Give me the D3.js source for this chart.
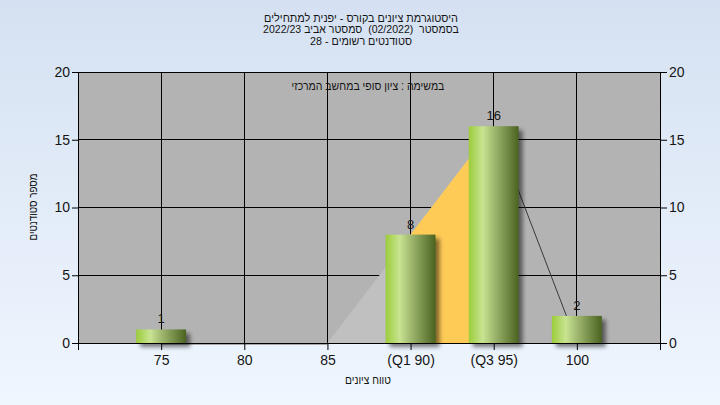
<!DOCTYPE html>
<html><head><meta charset="utf-8">
<script src="https://cdn.jsdelivr.net/npm/d3@7"></script>
<style>html,body{margin:0;padding:0;overflow:hidden;background:#fff}</style>
</head><body>
<svg id="c" width="720" height="405"></svg>
<script>
// ---- data ----
const categories = [75, 80, 85, 90, 95, 100];
const tickLabels = ["75", "80", "85", "(Q1 90)", "(Q3 95)", "100"];
const counts = [1, 0, 0, 8, 16, 2];
const yTicks = [0, 5, 10, 15, 20];
const curveX = [85, 95, 100];
const curveY = [0, 16, 0];
const quartiles = [90, 95];
const titleLines = ["היסטוגרמת ציונים בקורס - יפנית למתחילים", "בסמסטר  (02/2022)  סמסטר אביב 2022/23", "סטודנטים רשומים - 28"];
const subtitle = "במשימה : ציון סופי במחשב המרכזי";
const xTitle = "טווח ציונים";
const yTitle = "מספר סטודנטים";

// ---- layout ----
const svg = d3.select("#c");
const L = 78, R = 660, T = 72, B = 343;
const x = d3.scaleLinear().domain([70, 105]).range([L, R]);
const y = d3.scaleLinear().domain([0, 20]).range([B, T]);
const FONT = "'Liberation Sans Narrow','Arial Narrow','Liberation Sans',sans-serif";
const TXT = "#151515";

const defs = svg.append("defs");
const bg = defs.append("linearGradient").attr("id", "bg").attr("x1", 0).attr("y1", 0).attr("x2", 0).attr("y2", 1);
bg.append("stop").attr("offset", "0%").attr("stop-color", "#d5e1f2");
bg.append("stop").attr("offset", "100%").attr("stop-color", "#eff6fe");
const bar = defs.append("linearGradient").attr("id", "bar").attr("x1", 0).attr("y1", 0).attr("x2", 1).attr("y2", 0);
[["0%", "#9ccc3a"], ["28%", "#c8e492"], ["55%", "#98b068"], ["100%", "#4a6320"]].forEach(s =>
  bar.append("stop").attr("offset", s[0]).attr("stop-color", s[1]));
const blur = defs.append("filter").attr("id", "sh").attr("x", "-30%").attr("y", "-30%").attr("width", "160%").attr("height", "160%");
blur.append("feGaussianBlur").attr("stdDeviation", 2.2);

svg.append("rect").attr("width", 720).attr("height", 405).attr("fill", "url(#bg)");
svg.append("rect").attr("x", L).attr("y", T).attr("width", R - L).attr("height", B - T).attr("fill", "#b3b3b3");

// grid
svg.append("g").selectAll("line").data(yTicks.filter(v => v > 0 && v < 20)).join("line")
  .attr("x1", L).attr("x2", R).attr("y1", d => y(d)).attr("y2", d => y(d))
  .attr("stroke", "#000").attr("stroke-width", 1).attr("shape-rendering", "crispEdges");
svg.append("g").selectAll("line").data(categories).join("line")
  .attr("x1", d => x(d)).attr("x2", d => x(d)).attr("y1", T).attr("y2", B)
  .attr("stroke", "#000").attr("stroke-width", 1).attr("shape-rendering", "crispEdges");

// distribution shape
const peakX = curveX[1], peakY = curveY[1];
const lineAt = v => curveY[0] + (v - curveX[0]) / (peakX - curveX[0]) * (peakY - curveY[0]);
svg.append("path").attr("fill", "#c0c0c0")
  .attr("d", d3.line()([[x(curveX[0]), y(curveY[0])], [x(peakX), y(peakY)], [x(peakX), y(0)]]) + "Z");
svg.append("path").attr("fill", "#ffcb57")
  .attr("d", d3.line()([[x(quartiles[0]), y(0)], [x(quartiles[0]), y(lineAt(quartiles[0]))],
    [x(quartiles[1]), y(lineAt(quartiles[1]))], [x(quartiles[1]), y(0)]]) + "Z");
svg.append("line").attr("x1", x(peakX)).attr("y1", y(peakY)).attr("x2", x(curveX[2])).attr("y2", y(curveY[2]))
  .attr("stroke", "#3a3a3a").attr("stroke-width", 1);
svg.append("line").attr("x1", x(75)).attr("x2", x(curveX[0])).attr("y1", B + 1.5).attr("y2", B + 1.5)
  .attr("stroke", "#a8a8a8").attr("stroke-width", 1);

// bars
const bw = (x(80) - x(75)) * 0.6;
const data = categories.map((c, i) => ({ c, v: counts[i] })).filter(d => d.v > 0);
svg.append("g").selectAll("rect").data(data).join("rect")
  .attr("x", d => x(d.c) - bw / 2 + 4).attr("y", d => y(d.v) + 4)
  .attr("width", bw).attr("height", d => y(0) - y(d.v))
  .attr("fill", "#000").attr("opacity", 0.5).attr("filter", "url(#sh)");
svg.append("g").selectAll("rect").data(data).join("rect")
  .attr("x", d => x(d.c) - bw / 2).attr("y", d => y(d.v))
  .attr("width", bw).attr("height", d => y(0) - y(d.v))
  .attr("fill", "url(#bar)");
svg.append("g").selectAll("text").data(data).join("text")
  .attr("x", d => x(d.c)).attr("y", d => y(d.v) - 6)
  .attr("text-anchor", "middle").attr("font-family", FONT).attr("font-size", 13).attr("fill", TXT)
  .text(d => d.v);

// axes
const axFont = g => g.selectAll("text").attr("font-family", FONT).attr("font-size", 14).attr("fill", TXT);
const left = svg.append("g").attr("transform", `translate(${L},0)`)
  .call(d3.axisLeft(y).tickValues(yTicks).tickSize(6).tickPadding(2)).call(axFont);
const right = svg.append("g").attr("transform", `translate(${R},0)`)
  .call(d3.axisRight(y).tickValues(yTicks).tickSize(7).tickPadding(2)).call(axFont);
const bottom = svg.append("g").attr("transform", `translate(0,${B})`)
  .call(d3.axisBottom(x).tickValues(d3.range(70, 106, 5)).tickSize(7).tickPadding(5)
    .tickFormat(v => { const i = categories.indexOf(v); return i >= 0 ? tickLabels[i] : ""; }))
  .call(axFont);
[left, right, bottom].forEach(g => { g.select(".domain").attr("stroke", "#000"); g.selectAll(".tick line").attr("stroke", "#000"); });
svg.append("line").attr("x1", L).attr("x2", R).attr("y1", T).attr("y2", T).attr("stroke", "#000").attr("shape-rendering", "crispEdges");

// titles: text fitted to a target width by horizontal scaling
function fitted(str, cx, cy, width, size, rot) {
  const g = svg.append("g");
  const t = g.append("text").attr("x", 0).attr("y", 0).attr("text-anchor", "middle")
    .attr("font-family", FONT).attr("font-size", size).attr("fill", TXT)
    .style("white-space", "pre").text(str);
  const w = t.node().getComputedTextLength();
  const s = w > 0 ? width / w : 1;
  g.attr("transform", `translate(${cx},${cy})` + (rot ? ` rotate(${rot})` : "") + ` scale(${s},1)`);
}
const tW = [194, 196, 102], tY = [21.5, 33, 44.5];
titleLines.forEach((t, i) => fitted(t, 361, tY[i], tW[i], 11));
fitted(subtitle, 368, 90, 153, 12);
fitted(xTitle, 368, 384, 46, 12);
fitted(yTitle, 37, 207, 67, 12, -90);
</script>
</body></html>
